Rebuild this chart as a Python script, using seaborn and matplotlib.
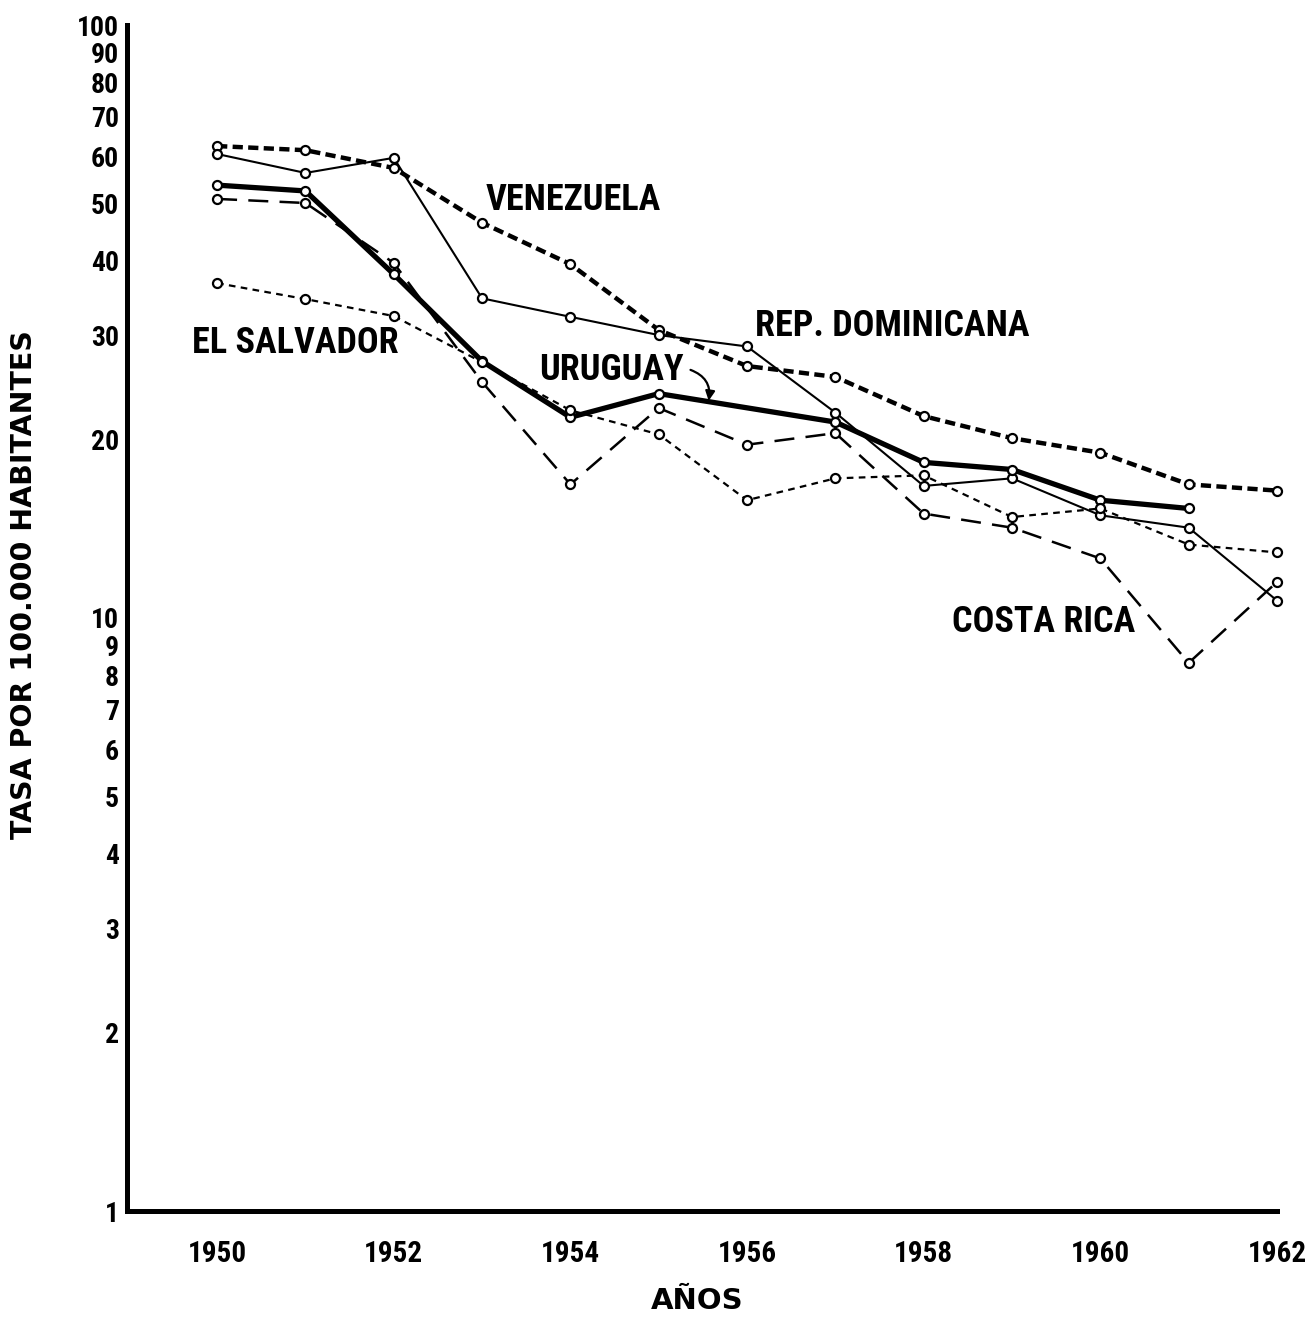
import numpy as np
import pandas as pd
import matplotlib
matplotlib.use("Agg")
import matplotlib.pyplot as plt
from matplotlib import font_manager as fm
import seaborn as sns

# ---------------- data ----------------
years = list(range(1950, 1963))
venezuela = [62.5, 61.5, 57.4, 46.4, 39.5, 30.6, 26.6, 25.5, 21.9, 20.1, 19.0, 16.8, 16.4]
rep_dominicana = [60.6, 56.3, 59.7, 34.6, 32.2, 30.0, 28.7, 22.2, 16.7, 17.2, 14.9, 14.2, 10.7]
uruguay = [53.7, 52.5, 38.0, 27.1, 21.8, 23.9, np.nan, 21.4, 18.3, 17.8, 15.8, 15.3, np.nan]
costa_rica = [50.9, 50.1, 39.7, 25.0, 16.8, 22.6, 19.6, 20.5, 15.0, 14.2, 12.6, 8.4, 11.5]
el_salvador = [36.7, 34.5, 32.3, 27.0, 22.4, 20.4, 15.8, 17.2, 17.4, 14.8, 15.3, 13.3, 12.9]

ytick_vals = [1, 2, 3, 4, 5, 6, 7, 8, 9, 10, 20, 30, 40, 50, 60, 70, 80, 90, 100]
ytick_labels = ["1", "2", "3", "4", "5", "6", "7", "8", "9", "10",
                "20", "30", "40", "50", "60", "70", "80", "90", "100"]
xtick_labels = [str(y) if y % 2 == 0 else "" for y in years]

series_names = ["VENEZUELA", "REP. DOMINICANA", "URUGUAY", "COSTA RICA", "EL SALVADOR"]

# ---------------- style ----------------
sns.set_style("white")
plt.rcParams["font.family"] = ["DejaVu Sans"]
for k in ["text.color", "axes.labelcolor", "xtick.color", "ytick.color", "axes.edgecolor"]:
    plt.rcParams[k] = "black"

# find a condensed bold face if one is installed
narrow_path = None
for fam in ["Liberation Sans Narrow", "DejaVu Sans Condensed", "Roboto Condensed",
            "Open Sans Condensed", "Noto Sans Condensed"]:
    try:
        narrow_path = fm.findfont(fm.FontProperties(family=fam, weight="bold"),
                                  fallback_to_default=False)
        break
    except Exception:
        narrow_path = None
if narrow_path is None:
    for fam in ["Roboto", "Noto Sans", "Open Sans", "DejaVu Sans", "Liberation Sans"]:
        p = fm.findfont(fm.FontProperties(family=fam, weight="bold", stretch="condensed"))
        low = p.lower()
        if "condensed" in low or "narrow" in low:
            narrow_path = p
            break

def nfont(size):
    if narrow_path:
        return fm.FontProperties(fname=narrow_path, size=size)
    return fm.FontProperties(family="DejaVu Sans", weight="bold", size=size * 0.78)

fig = plt.figure(figsize=(13.07, 13.29), dpi=100)
ax = fig.add_axes([127 / 1307, 1 - 1211 / 1329, (1277 - 127) / 1307, (1211 - 25) / 1329])

styles = {
    "VENEZUELA": dict(lw=3.2, ls=(0, (2.3, 1.2))),
    "REP. DOMINICANA": dict(lw=1.5, ls="-"),
    "URUGUAY": dict(lw=3.8, ls="-"),
    "COSTA RICA": dict(lw=1.8, ls=(0, (8.0, 4.5))),
    "EL SALVADOR": dict(lw=1.6, ls=(0, (3.0, 2.4))),
}
values = [venezuela, rep_dominicana, uruguay, costa_rica, el_salvador]

for name, vals in zip(series_names, values):
    df = pd.DataFrame({"year": years, "rate": vals}).dropna()
    st = styles[name]
    sns.lineplot(data=df, x="year", y="rate", ax=ax, color="black",
                 linewidth=st["lw"], linestyle=st["ls"],
                 marker="o", markersize=6.5, markerfacecolor="white",
                 markeredgecolor="black", markeredgewidth=1.6,
                 clip_on=False, legend=False, zorder=3)

ax.set_yscale("log")
ax.set_ylim(1, 100)
ax.set_xlim(1948.98, 1962.0)

ax.set_yticks(ytick_vals)
ax.set_yticklabels(ytick_labels)
ax.yaxis.set_minor_locator(matplotlib.ticker.NullLocator())
ax.set_xticks(years)
ax.set_xticklabels(xtick_labels)
for lab in ax.get_yticklabels():
    lab.set_fontproperties(nfont(20))
for lab in ax.get_xticklabels():
    lab.set_fontproperties(nfont(21))

ax.tick_params(axis="y", direction="in", length=13, width=1.6, pad=6, colors="black")
ax.tick_params(axis="x", direction="out", length=13, width=1.6, pad=8, colors="black")

for s in ["top", "right"]:
    ax.spines[s].set_visible(False)
for s in ["left", "bottom"]:
    ax.spines[s].set_linewidth(3.6)
    ax.spines[s].set_color("black")
    ax.spines[s].set_capstyle("projecting")

ax.set_xlabel("")
ax.set_ylabel("")
fig.text(24 / 1307, 1 - 585 / 1329, "TASA POR 100.000 HABITANTES", rotation=90,
         ha="center", va="center", fontsize=20.5, fontweight="bold")
fig.text(697 / 1307, 1 - 1301 / 1329, "AÑOS", ha="center", va="center",
         fontsize=21, fontweight="bold")

# series labels (annotation positions)
label_pos = {
    "VENEZUELA": (1954.03, 50.7),
    "REP. DOMINICANA": (1957.64, 31.1),
    "URUGUAY": (1954.46, 26.2),
    "EL SALVADOR": (1950.89, 29.1),
    "COSTA RICA": (1959.36, 9.85),
}
for name, (lx, ly) in label_pos.items():
    ax.text(lx, ly, name, ha="center", va="center", fontproperties=nfont(26),
            color="black", zorder=5)

ax.annotate("", xy=(1955.56, 23.0), xytext=(1955.33, 26.3),
            arrowprops=dict(arrowstyle="-|>", color="black", lw=1.6,
                            connectionstyle="arc3,rad=-0.45",
                            mutation_scale=14))

fig.savefig("out.png", dpi=100, facecolor="white")
